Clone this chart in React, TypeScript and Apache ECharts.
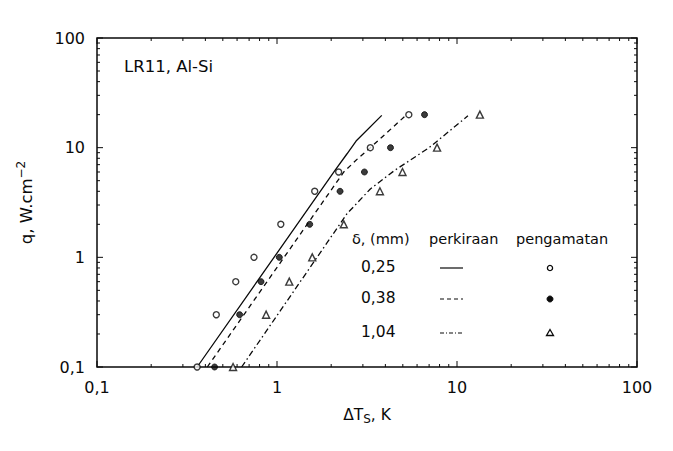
import React, { useEffect, useRef } from "react";
import * as echarts from "echarts";

const X_MIN = 0.1;
const X_MAX = 100;
const Y_MIN = 0.1;
const Y_MAX = 100;

// observed (pengamatan)
const obs025: number[][] = [[0.36, 0.1], [0.46, 0.3], [0.59, 0.6], [0.745, 1], [1.05, 2], [1.62, 4], [2.2, 6], [3.3, 10], [5.4, 20]];
const obs038: number[][] = [[0.45, 0.1], [0.62, 0.3], [0.815, 0.6], [1.03, 1], [1.52, 2], [2.24, 4], [3.06, 6], [4.27, 10], [6.6, 20]];
const obs104: number[][] = [[0.57, 0.1], [0.87, 0.3], [1.17, 0.6], [1.57, 1], [2.35, 2], [3.73, 4], [4.98, 6], [7.75, 10], [13.4, 20]];

// predicted (perkiraan)
const pred025: number[][] = [[0.36, 0.1], [2.1, 6.2], [2.45, 8.8], [2.75, 11.5], [3.82, 19.7]];
const pred038: number[][] = [[0.41, 0.1], [2.35, 6.0], [2.8, 7.9], [3.28, 9.9], [5.13, 19.3]];
const pred104: number[][] = [[0.636, 0.1], [2.45, 2.5], [3.3, 4.2], [4.5, 6.2], [7.0, 10], [11.5, 19.5]];

const majorTicks = [0.1, 1, 10, 100];
const minorTicks = [0.2, 0.3, 0.4, 0.5, 0.6, 0.7, 0.8, 0.9, 2, 3, 4, 5, 6, 7, 8, 9, 20, 30, 40, 50, 60, 70, 80, 90];

const legendRows = ["0,25", "0,38", "1,04"];
const legendHeader = ["δ, (mm)", "perkiraan", "pengamatan"];

const INK = "#0a0a0a";
const FONT = "DejaVu Sans";

export default function App() {
  const ref = useRef<HTMLDivElement>(null);
  useEffect(() => {
    if (!ref.current) return;
    const chart = echarts.init(ref.current, null, { renderer: "svg" });

    const xTickData = [
      ...majorTicks.map((v) => [v, Y_MIN, 1]),
      ...minorTicks.map((v) => [v, Y_MIN, 0]),
    ];
    const yTickData = [
      ...majorTicks.map((v) => [X_MIN, v, 1]),
      ...minorTicks.map((v) => [X_MIN, v, 0]),
    ];
    const tickStyle = { stroke: INK, lineWidth: 1 };

    const fmt = (v: number) => String(v).replace(".", ",");

    const rowY = [268, 299, 333];
    const dashes: any[] = ["solid", [5, 4], [6, 3, 1.5, 3]];
    const txt = (text: string, left: number, cy: number, size: number) => ({
      type: "text",
      left,
      top: cy - size * 0.6,
      style: { text, fontSize: size, fontFamily: FONT, fill: INK },
    });

    const legendGraphics: any[] = [
      txt(legendHeader[0], 352, 240, 14.5),
      txt(legendHeader[1], 429, 240, 14.5),
      txt(legendHeader[2], 516, 240, 14.5),
    ];
    legendRows.forEach((r, i) => {
      legendGraphics.push(txt(r, 361, rowY[i], 15.5));
      legendGraphics.push({
        type: "line",
        shape: { x1: 440, y1: rowY[i], x2: 463, y2: rowY[i] },
        style: { stroke: INK, lineWidth: 1.2, lineDash: i === 0 ? null : i === 1 ? [4, 3] : [4, 2, 1, 2] },
      });
    });
    legendGraphics.push({ type: "circle", shape: { cx: 550, cy: rowY[0], r: 2.6 }, style: { fill: "#fff", stroke: INK, lineWidth: 1.3 } });
    legendGraphics.push({ type: "circle", shape: { cx: 550, cy: rowY[1], r: 3 }, style: { fill: INK, stroke: INK, lineWidth: 1 } });
    legendGraphics.push({ type: "polygon", shape: { points: [[550, rowY[2] - 3.5], [553.5, rowY[2] + 2.5], [546.5, rowY[2] + 2.5]] }, style: { fill: "#fff", stroke: INK, lineWidth: 1.3 } });
    legendGraphics.push(txt("LR11, Al-Si", 124, 68, 16.5));

    const lineSeries = (data: number[][], dash: any) => ({
      type: "line",
      data,
      showSymbol: false,
      symbol: "none",
      lineStyle: { color: INK, width: 1.3, type: dash },
      z: 2,
    });

    chart.setOption({
      animation: false,
      backgroundColor: "#fff",
      textStyle: { fontFamily: FONT },
      grid: { left: 97, right: 36, top: 38, bottom: 84, show: true, borderColor: INK, borderWidth: 1.5, backgroundColor: "transparent" },
      xAxis: {
        type: "log",
        logBase: 10,
        min: X_MIN,
        max: X_MAX,
        axisLine: { show: false },
        axisTick: { show: false },
        splitLine: { show: false },
        axisLabel: { color: INK, fontSize: 16, margin: 12, formatter: fmt, fontFamily: FONT },
        name: "ΔT{sub|S}, K",
        nameLocation: "middle",
        nameGap: 37,
        nameTextStyle: {
          color: INK,
          fontSize: 15.5,
          fontFamily: FONT,
          rich: { sub: { fontSize: 12, padding: [9, 0, 0, 0], fontFamily: FONT, color: INK } },
        },
      },
      yAxis: {
        type: "log",
        logBase: 10,
        min: Y_MIN,
        max: Y_MAX,
        axisLine: { show: false },
        axisTick: { show: false },
        splitLine: { show: false },
        axisLabel: { color: INK, fontSize: 16, margin: 12, formatter: fmt, fontFamily: FONT },
        name: "q, W.cm{sup|−2}",
        nameLocation: "middle",
        nameRotate: 90,
        nameGap: 60,
        nameTextStyle: {
          color: INK,
          fontSize: 16.5,
          fontFamily: FONT,
          rich: { sup: { fontSize: 12, padding: [0, 0, 10, 0], fontFamily: FONT, color: INK } },
        },
      },
      graphic: legendGraphics,
      series: [
        lineSeries(pred025, dashes[0]),
        lineSeries(pred038, dashes[1]),
        lineSeries(pred104, dashes[2]),
        {
          type: "scatter",
          data: obs025,
          symbol: "circle",
          symbolSize: 6,
          itemStyle: { color: "#fff", borderColor: INK, borderWidth: 1.4 },
          z: 3,
        },
        {
          type: "scatter",
          data: obs038,
          symbol: "circle",
          symbolSize: 6,
          itemStyle: { color: INK, borderColor: INK, borderWidth: 1 },
          z: 3,
        },
        {
          type: "scatter",
          data: obs104,
          symbol: "triangle",
          symbolSize: 7,
          itemStyle: { color: "#fff", borderColor: INK, borderWidth: 1.4 },
          z: 3,
        },
        {
          type: "custom",
          data: xTickData,
          encode: { x: 0, y: 1 },
          silent: true,
          renderItem: (params: any, api: any) => {
            const v = api.value(0);
            const len = api.value(2) ? 6 : 3;
            const b = api.coord([v, Y_MIN]);
            const t = api.coord([v, Y_MAX]);
            return {
              type: "group",
              children: [
                { type: "line", shape: { x1: b[0], y1: b[1], x2: b[0], y2: b[1] - len }, style: tickStyle },
                { type: "line", shape: { x1: t[0], y1: t[1], x2: t[0], y2: t[1] + len }, style: tickStyle },
              ],
            };
          },
        },
        {
          type: "custom",
          data: yTickData,
          encode: { x: 0, y: 1 },
          silent: true,
          renderItem: (params: any, api: any) => {
            const v = api.value(1);
            const len = api.value(2) ? 6 : 3;
            const l = api.coord([X_MIN, v]);
            const r = api.coord([X_MAX, v]);
            return {
              type: "group",
              children: [
                { type: "line", shape: { x1: l[0], y1: l[1], x2: l[0] + len, y2: l[1] }, style: tickStyle },
                { type: "line", shape: { x1: r[0], y1: r[1], x2: r[0] - len, y2: r[1] }, style: tickStyle },
              ],
            };
          },
        },
      ],
    });
    return () => chart.dispose();
  }, []);
  return <div ref={ref} style={{ position: "fixed", left: 0, top: 0, width: 673, height: 451 }} />;
}
